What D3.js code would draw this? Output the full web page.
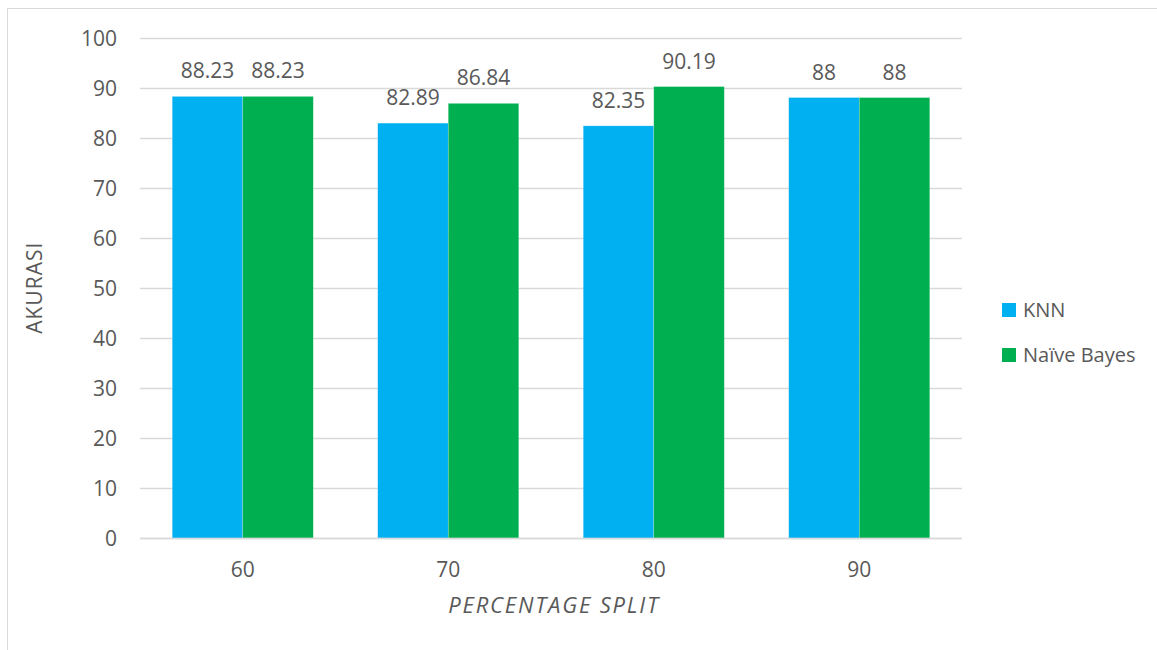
<!DOCTYPE html>
<html>
<head>
<meta charset="utf-8">
<script src="https://cdn.jsdelivr.net/npm/d3@7"></script>
<style>
  html, body { margin: 0; padding: 0; background: #fff; }
  svg text { font-family: "Open Sans", "Noto Sans", sans-serif; fill: #595959; }
</style>
</head>
<body>
<svg id="chart" width="1157" height="650"></svg>
<script>
// Accuracy per percentage split
const categories = ["60", "70", "80", "90"];
const seriesNames = ["KNN", "Naïve Bayes"];
const knnValues = [88.23, 82.89, 82.35, 88];
const naiveBayesValues = [88.23, 86.84, 90.19, 88];
const yTicks = [0, 10, 20, 30, 40, 50, 60, 70, 80, 90, 100];
const seriesColors = ["#00B0F0", "#00B050"];

const FONT = "'Open Sans', 'Noto Sans', sans-serif";
const svg = d3.select("#chart");

// outer chart frame
svg.append("rect")
  .attr("x", 7.5).attr("y", 8.5)
  .attr("width", 1157).attr("height", 660)
  .attr("fill", "none").attr("stroke", "#d9d9d9").attr("stroke-width", 1);

const plot = { left: 140, right: 962, top: 37.5, bottom: 538 };

const y = d3.scaleLinear().domain([0, 100]).range([plot.bottom, plot.top]);
const x0 = d3.scaleBand().domain(categories).range([plot.left, plot.right]).padding(0);
const x1 = d3.scaleBand().domain(seriesNames).range([0, x0.bandwidth()])
  .paddingInner(0).paddingOuter(0.457);

// gridlines
svg.append("g")
  .selectAll("line")
  .data(yTicks)
  .join("line")
  .attr("x1", plot.left).attr("x2", plot.right)
  .attr("y1", d => Math.round(y(d)) + 0.5).attr("y2", d => Math.round(y(d)) + 0.5)
  .attr("stroke", "#d9d9d9").attr("stroke-width", 1.3);

// y axis labels
const yAxis = d3.axisLeft(y).tickValues(yTicks).tickSize(0).tickPadding(0);
const yg = svg.append("g").attr("transform", `translate(${plot.left - 23},0)`).call(yAxis);
yg.select(".domain").remove();
yg.selectAll("text").attr("font-size", 21).attr("dy", "0.36em")
  .style("font-family", FONT).attr("fill", "#595959");

// x axis labels
const xAxis = d3.axisBottom(x0).tickSize(0).tickPadding(0);
const xg = svg.append("g").attr("transform", `translate(0,577)`).call(xAxis);
xg.select(".domain").remove();
xg.selectAll("text").attr("font-size", 21).attr("dy", "0")
  .style("font-family", FONT).attr("fill", "#595959");

// bars
const rows = categories.map((c, i) => ({
  cat: c,
  vals: [
    { name: seriesNames[0], value: knnValues[i], color: seriesColors[0] },
    { name: seriesNames[1], value: naiveBayesValues[i], color: seriesColors[1] }
  ]
}));

const groups = svg.append("g").selectAll("g")
  .data(rows)
  .join("g")
  .attr("transform", d => `translate(${x0(d.cat)},0)`);

groups.selectAll("rect")
  .data(d => d.vals)
  .join("rect")
  .attr("x", d => x1(d.name))
  .attr("width", x1.bandwidth())
  .attr("y", d => y(d.value))
  .attr("height", d => y(0) - y(d.value))
  .attr("fill", d => d.color)
  .attr("stroke", "#ffffff").attr("stroke-opacity", 0.35).attr("stroke-width", 0.6);

groups.selectAll("text.val")
  .data(d => d.vals)
  .join("text")
  .attr("class", "val")
  .attr("x", d => x1(d.name) + x1.bandwidth() / 2)
  .attr("y", d => y(d.value) - 18)
  .attr("text-anchor", "middle")
  .attr("font-size", 21)
  .text(d => d.value);

// axis line at zero
svg.append("line")
  .attr("x1", plot.left).attr("x2", plot.right)
  .attr("y1", y(0) + 0.5).attr("y2", y(0) + 0.5)
  .attr("stroke", "#d9d9d9").attr("stroke-width", 1.5);

// axis titles
svg.append("text")
  .attr("transform", `translate(42,${(plot.top + plot.bottom) / 2}) rotate(-90)`)
  .attr("text-anchor", "middle")
  .attr("font-size", 21)
  .attr("letter-spacing", 1)
  .text("AKURASI");

svg.append("text")
  .attr("x", 554)
  .attr("y", 613)
  .attr("text-anchor", "middle")
  .attr("font-size", 22)
  .attr("letter-spacing", 1.8)
  .attr("font-style", "italic")
  .text("PERCENTAGE SPLIT");

// legend
const legend = svg.append("g").attr("transform", "translate(1002,303)");
const li = legend.selectAll("g")
  .data(seriesNames)
  .join("g")
  .attr("transform", (d, i) => `translate(0,${i * 45})`);
li.append("rect").attr("width", 14).attr("height", 14)
  .attr("fill", (d, i) => seriesColors[i]);
li.append("text").attr("x", 21).attr("y", 14)
  .attr("font-size", 20).text(d => d);
</script>
</body>
</html>
